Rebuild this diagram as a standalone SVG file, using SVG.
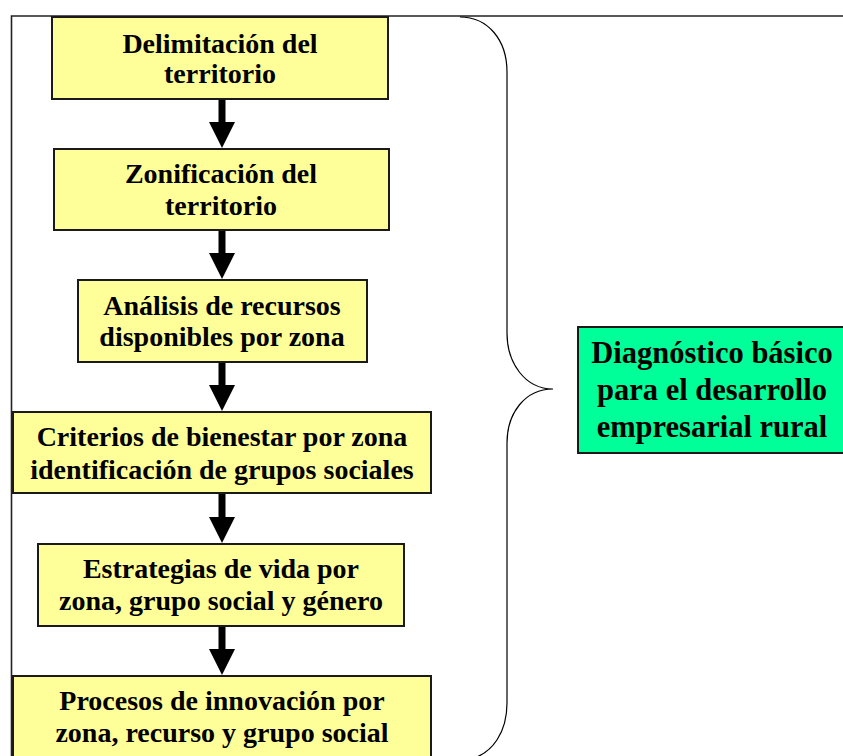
<svg xmlns="http://www.w3.org/2000/svg" width="843" height="756" viewBox="0 0 843 756">
<style>
.box{fill:#ffff99;stroke:#1a1a1a;stroke-width:2}
.green{fill:#00ff99;stroke:#1a1a1a;stroke-width:2}
.t{font-family:"Liberation Serif","Times New Roman",serif;font-weight:bold;font-size:28px;fill:#000;text-anchor:middle}
.tg{font-family:"Liberation Serif","Times New Roman",serif;font-weight:bold;font-size:30.5px;fill:#000;text-anchor:middle}
.shaft{stroke:#000;stroke-width:7;fill:none}
.frame{stroke:#222;stroke-width:1.6;fill:none}
.brace{stroke:#000;stroke-width:1.2;fill:none}
</style>
<rect width="843" height="756" fill="#fff"/>
<path class="frame" d="M11.5,760 L11.5,16 L843,16"/>
<g id="connectors">
<path d="M222,99 L222,122" class="shaft"/><path d="M209,122 L235,122 L222,148 Z"/>
<path d="M222,230 L222,253" class="shaft"/><path d="M209,253 L235,253 L222,279 Z"/>
<path d="M222,362 L222,385" class="shaft"/><path d="M209,385 L235,385 L222,411 Z"/>
<path d="M222,493 L222,517" class="shaft"/><path d="M209,517 L235,517 L222,543 Z"/>
<path d="M222,626 L222,649" class="shaft"/><path d="M209,649 L235,649 L222,675 Z"/>
<path id="brace" class="brace" d="M460,17 C488,17 507,40 507,72 L507,333 C507,363 525,389 553,389 C525,389 507,413 507,443 L507,703 C507,733 492,752 474,758"/>
</g>
<g id="n1"><rect class="box" x="52" y="17" width="336" height="82"/>
<text class="t" x="220" y="53">Delimitación del</text><text class="t" x="220" y="83">territorio</text></g>
<g id="n2"><rect class="box" x="54" y="149" width="335" height="81"/>
<text class="t" x="221" y="183">Zonificación del</text><text class="t" x="221" y="215">territorio</text></g>
<g id="n3"><rect class="box" x="78" y="280" width="289" height="82"/>
<text class="t" x="222" y="315">Análisis de recursos</text><text class="t" x="222" y="346">disponibles por zona</text></g>
<g id="n4"><rect class="box" x="13" y="412" width="418" height="81"/>
<text class="t" x="222" y="446">Criterios de bienestar por zona</text><text class="t" x="222" y="479">identificación de grupos sociales</text></g>
<g id="n5"><rect class="box" x="38" y="544" width="366" height="82"/>
<text class="t" x="221" y="578">Estrategias de vida por</text><text class="t" x="221" y="610">zona, grupo social y género</text></g>
<g id="n6"><rect class="box" x="13" y="676" width="418" height="84"/>
<text class="t" x="222" y="710">Procesos de innovación por</text><text class="t" x="222" y="742">zona, recurso y grupo social</text></g>
<g id="n7"><rect class="green" x="578" y="327" width="270" height="126"/>
<text class="tg" x="712" y="363">Diagnóstico básico</text><text class="tg" x="712" y="400">para el desarrollo</text><text class="tg" x="712" y="437">empresarial rural</text></g>
</svg>
